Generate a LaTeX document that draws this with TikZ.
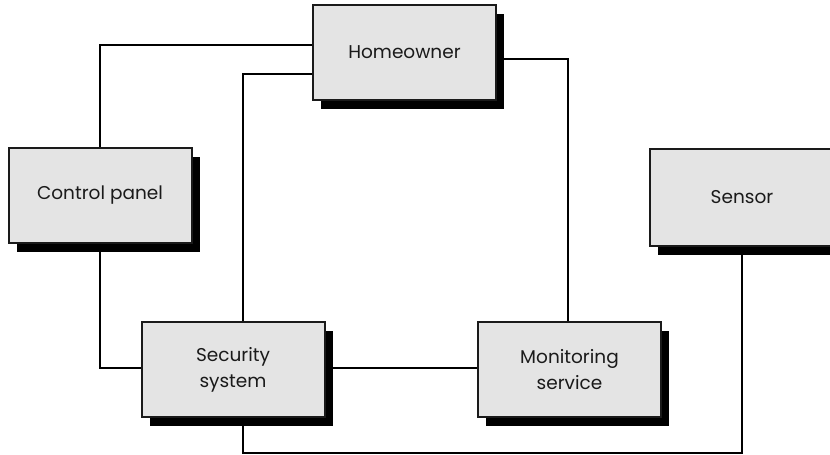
\documentclass[tikz,border=0pt]{standalone}
\usepackage{fontspec}
\setmainfont{Poppins}
\usetikzlibrary{shadows}
\definecolor{boxfill}{HTML}{E4E4E4}
\definecolor{boxline}{HTML}{1A1A1A}
\definecolor{txt}{HTML}{1A1A1A}
\tikzset{
  blk/.style={draw=boxline, line width=2pt, fill=boxfill, minimum width=183pt, minimum height=95pt,
    inner sep=0pt, align=center, text=txt, font=\fontsize{18.5}{26}\selectfont,
    general shadow={fill=black, shadow xshift=8pt, shadow yshift=-9pt}},
  wire/.style={draw=black, line width=2pt}
}
\begin{document}
\begin{tikzpicture}[x=1pt,y=-1pt]
\useasboundingbox (0,0) rectangle (830,455);
\clip (0,0) rectangle (830,455);
\node[blk] (home) at (404.5,52.5) {Homeowner};
\node[blk] (ctrl) at (100,195) {Control panel};
\node[blk] (sec) at (233,369.5) {Security\\system};
\node[blk] (mon) at (569.5,369.5) {Monitoring\\service};
\node[blk, minimum width=184pt, minimum height=97pt] (sensor) at (742,197.5) {Sensor};
\coordinate (bot) at (0,453);
\draw[wire] ([yshift=7.5pt]home.west) -| (ctrl.north);
\draw[wire] ([yshift=-21.5pt]home.west) -| ([xshift=10pt]sec.north);
\draw[wire] ([yshift=-6.5pt]home.east) -| ([xshift=-2pt]mon.north);
\draw[wire] (ctrl.south) |- ([yshift=2pt]sec.west);
\draw[wire] ([yshift=2pt]sec.east) -- ([yshift=2pt]mon.west);
\draw[wire] ([xshift=10pt]sec.south) |- (bot -| sensor.south) -- (sensor.south);
\end{tikzpicture}
\end{document}
